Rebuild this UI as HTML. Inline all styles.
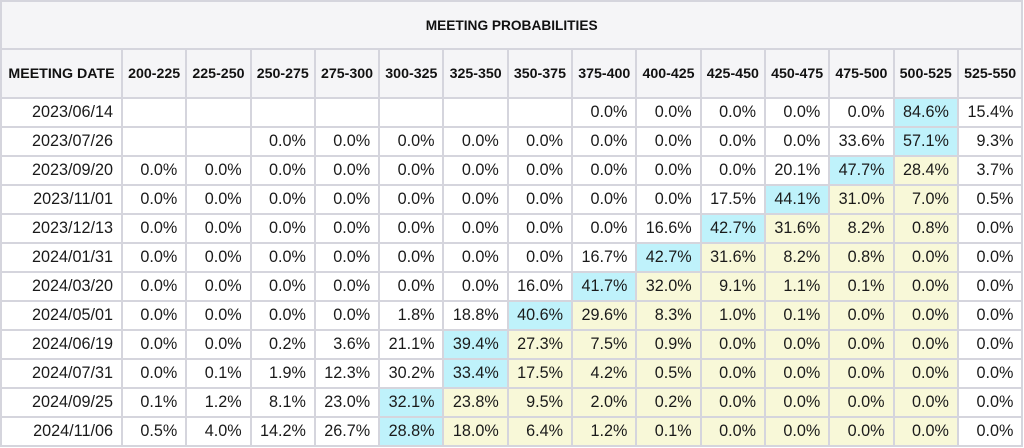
<!DOCTYPE html><html><head><style>
body{margin:0;background:#fff;font-family:"Liberation Sans",Arial,sans-serif;}
table{position:absolute;left:0;top:0;border-collapse:collapse;table-layout:fixed;width:1021px;}
td,th{border:2px solid #d5d5dd;padding:0 8px 0 0;font-size:16.2px;color:#1a1a1a;text-align:right;height:27px;overflow:hidden;white-space:nowrap;box-sizing:border-box}
td{height:29px}
th{background:#f5f5f7;font-size:14.2px;font-weight:bold;color:#111;text-align:center;padding:0;height:49px}
th.t{height:48px;font-size:13.7px}
.b{background:#bff2fb}.y{background:#f8f8d8}
</style></head><body>
<table>
<colgroup><col style="width:121px"><col span="14" style="width:64.3px"></colgroup>
<tr><th class="t" colspan="15">MEETING PROBABILITIES</th></tr>
<tr><th>MEETING DATE</th><th>200-225</th><th>225-250</th><th>250-275</th><th>275-300</th><th>300-325</th><th>325-350</th><th>350-375</th><th>375-400</th><th>400-425</th><th>425-450</th><th>450-475</th><th>475-500</th><th>500-525</th><th>525-550</th></tr>
<tr><td>2023/06/14</td><td></td><td></td><td></td><td></td><td></td><td></td><td></td><td>0.0%</td><td>0.0%</td><td>0.0%</td><td>0.0%</td><td>0.0%</td><td class="b">84.6%</td><td>15.4%</td></tr>
<tr><td>2023/07/26</td><td></td><td></td><td>0.0%</td><td>0.0%</td><td>0.0%</td><td>0.0%</td><td>0.0%</td><td>0.0%</td><td>0.0%</td><td>0.0%</td><td>0.0%</td><td>33.6%</td><td class="b">57.1%</td><td>9.3%</td></tr>
<tr><td>2023/09/20</td><td>0.0%</td><td>0.0%</td><td>0.0%</td><td>0.0%</td><td>0.0%</td><td>0.0%</td><td>0.0%</td><td>0.0%</td><td>0.0%</td><td>0.0%</td><td>20.1%</td><td class="b">47.7%</td><td class="y">28.4%</td><td>3.7%</td></tr>
<tr><td>2023/11/01</td><td>0.0%</td><td>0.0%</td><td>0.0%</td><td>0.0%</td><td>0.0%</td><td>0.0%</td><td>0.0%</td><td>0.0%</td><td>0.0%</td><td>17.5%</td><td class="b">44.1%</td><td class="y">31.0%</td><td class="y">7.0%</td><td>0.5%</td></tr>
<tr><td>2023/12/13</td><td>0.0%</td><td>0.0%</td><td>0.0%</td><td>0.0%</td><td>0.0%</td><td>0.0%</td><td>0.0%</td><td>0.0%</td><td>16.6%</td><td class="b">42.7%</td><td class="y">31.6%</td><td class="y">8.2%</td><td class="y">0.8%</td><td>0.0%</td></tr>
<tr><td>2024/01/31</td><td>0.0%</td><td>0.0%</td><td>0.0%</td><td>0.0%</td><td>0.0%</td><td>0.0%</td><td>0.0%</td><td>16.7%</td><td class="b">42.7%</td><td class="y">31.6%</td><td class="y">8.2%</td><td class="y">0.8%</td><td class="y">0.0%</td><td>0.0%</td></tr>
<tr><td>2024/03/20</td><td>0.0%</td><td>0.0%</td><td>0.0%</td><td>0.0%</td><td>0.0%</td><td>0.0%</td><td>16.0%</td><td class="b">41.7%</td><td class="y">32.0%</td><td class="y">9.1%</td><td class="y">1.1%</td><td class="y">0.1%</td><td class="y">0.0%</td><td>0.0%</td></tr>
<tr><td>2024/05/01</td><td>0.0%</td><td>0.0%</td><td>0.0%</td><td>0.0%</td><td>1.8%</td><td>18.8%</td><td class="b">40.6%</td><td class="y">29.6%</td><td class="y">8.3%</td><td class="y">1.0%</td><td class="y">0.1%</td><td class="y">0.0%</td><td class="y">0.0%</td><td>0.0%</td></tr>
<tr><td>2024/06/19</td><td>0.0%</td><td>0.0%</td><td>0.2%</td><td>3.6%</td><td>21.1%</td><td class="b">39.4%</td><td class="y">27.3%</td><td class="y">7.5%</td><td class="y">0.9%</td><td class="y">0.0%</td><td class="y">0.0%</td><td class="y">0.0%</td><td class="y">0.0%</td><td>0.0%</td></tr>
<tr><td>2024/07/31</td><td>0.0%</td><td>0.1%</td><td>1.9%</td><td>12.3%</td><td>30.2%</td><td class="b">33.4%</td><td class="y">17.5%</td><td class="y">4.2%</td><td class="y">0.5%</td><td class="y">0.0%</td><td class="y">0.0%</td><td class="y">0.0%</td><td class="y">0.0%</td><td>0.0%</td></tr>
<tr><td>2024/09/25</td><td>0.1%</td><td>1.2%</td><td>8.1%</td><td>23.0%</td><td class="b">32.1%</td><td class="y">23.8%</td><td class="y">9.5%</td><td class="y">2.0%</td><td class="y">0.2%</td><td class="y">0.0%</td><td class="y">0.0%</td><td class="y">0.0%</td><td class="y">0.0%</td><td>0.0%</td></tr>
<tr><td>2024/11/06</td><td>0.5%</td><td>4.0%</td><td>14.2%</td><td>26.7%</td><td class="b">28.8%</td><td class="y">18.0%</td><td class="y">6.4%</td><td class="y">1.2%</td><td class="y">0.1%</td><td class="y">0.0%</td><td class="y">0.0%</td><td class="y">0.0%</td><td class="y">0.0%</td><td>0.0%</td></tr>
</table>
</body></html>
